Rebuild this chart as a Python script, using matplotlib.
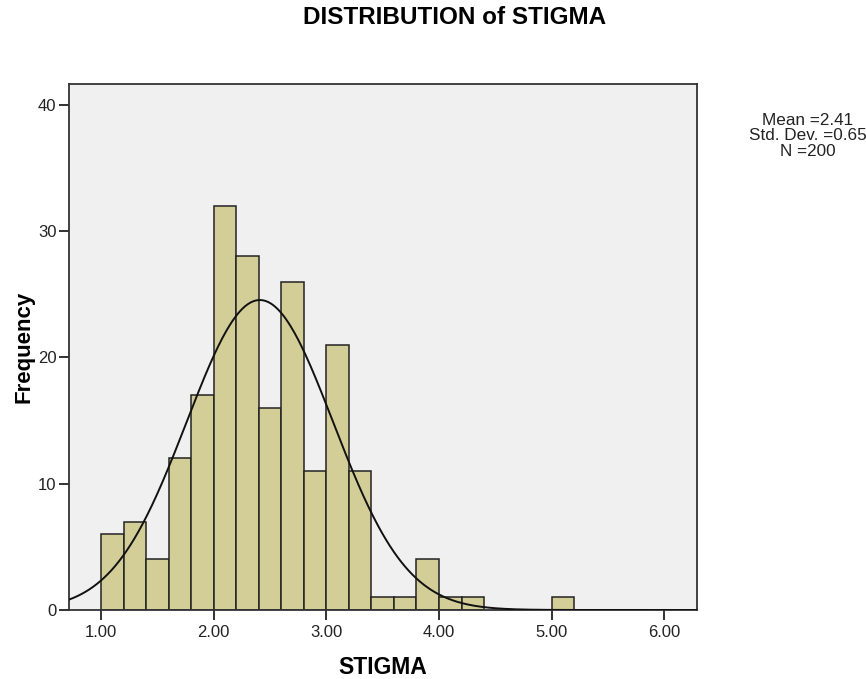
import numpy as np
import matplotlib
matplotlib.use("Agg")
import matplotlib.pyplot as plt

plt.rcParams['font.family'] = ['Liberation Sans', 'DejaVu Sans']

bin_edges = [1.0, 1.2, 1.4, 1.6, 1.8, 2.0, 2.2, 2.4, 2.6, 2.8, 3.0, 3.2, 3.4,
             3.6, 3.8, 4.0, 4.2, 4.4, 4.6, 4.8, 5.0, 5.2]
counts = [6, 7, 4, 12, 17, 32, 28, 16, 26, 11, 21, 11, 1, 1, 4, 1, 1, 0, 0, 0, 1]
mean = 2.41
std = 0.65
n = 200
x_ticks = [1.0, 2.0, 3.0, 4.0, 5.0, 6.0]
x_tick_labels = ["1.00", "2.00", "3.00", "4.00", "5.00", "6.00"]
y_ticks = [0, 10, 20, 30, 40]

W, H = 866, 679
fig = plt.figure(figsize=(W / 100, H / 100), dpi=100)
left, right, top, bottom = 69, 697, 84, 610
ax = fig.add_axes([left / W, 1 - bottom / H, (right - left) / W, (bottom - top) / H])
ax.set_facecolor('#F0F0F0')

lefts = bin_edges[:-1]
widths = np.diff(bin_edges)
for l, w, c in zip(lefts, widths, counts):
    if c > 0:
        ax.bar(l, c, width=w, align='edge', color='#D3CE97', edgecolor='#222222', linewidth=1.1, zorder=2)

xmin, xmax = 0.716, 6.29
xs = np.linspace(xmin, xmax, 500)
bw = 0.2
ys = n * bw / (std * np.sqrt(2 * np.pi)) * np.exp(-0.5 * ((xs - mean) / std) ** 2)
ax.plot(xs, ys, color='#111111', linewidth=1.4, zorder=3)

ax.set_xlim(xmin, xmax)
ax.set_ylim(0, 41.66)
ax.set_xticks(x_ticks)
ax.set_xticklabels(x_tick_labels)
ax.set_yticks(y_ticks)
ax.tick_params(direction='out', length=7.5, width=1.3, color='#222222', labelsize=12, labelcolor='#222222')
ax.tick_params(axis='x', pad=3)
ax.tick_params(axis='y', pad=1.5)
for s in ax.spines.values():
    s.set_color('#333333')
    s.set_linewidth(1.3)

ax.set_xlabel('STIGMA', fontsize=16.5, fontweight='bold', labelpad=11.5)
ax.set_ylabel('Frequency', fontsize=16, fontweight='bold', labelpad=2.5)

fig.text(455 / W, 1 - 18 / H, 'DISTRIBUTION of STIGMA', fontsize=17.5, fontweight='bold',
         ha='center', va='center')
fig.text(808 / W, 1 - 136 / H, 'Mean =2.41\nStd. Dev. =0.65\nN =200', fontsize=12.3,
         ha='center', va='center', linespacing=1.08, color='#222222')

fig.savefig('out.png', dpi=100)
